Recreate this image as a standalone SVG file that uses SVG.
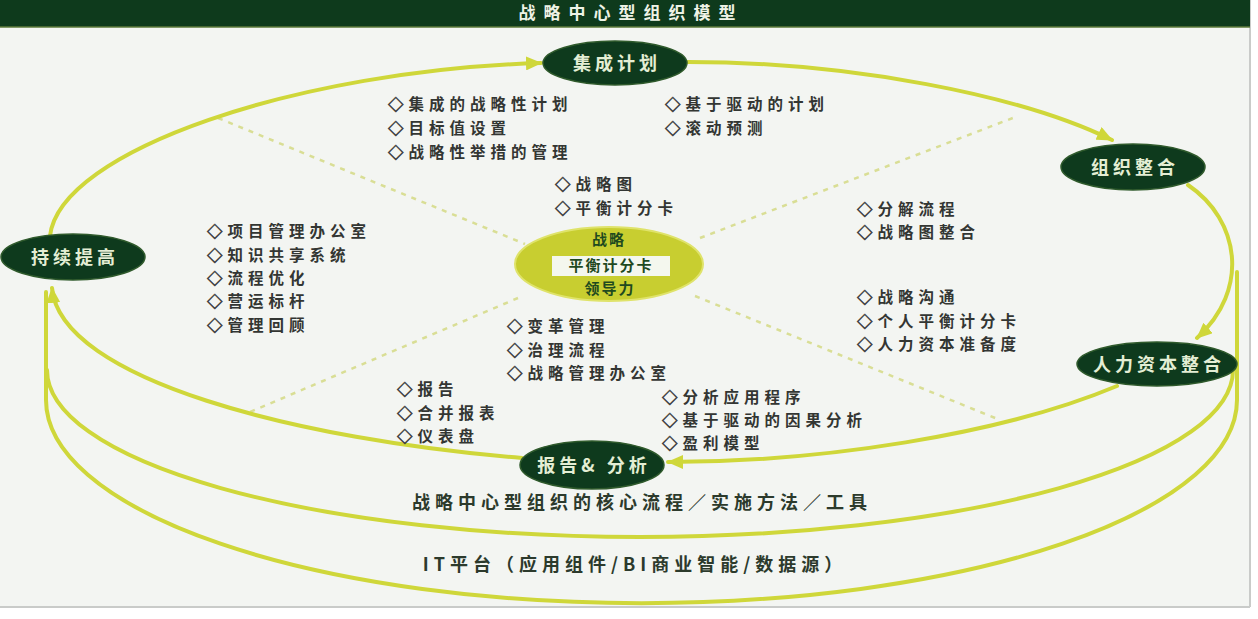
<svg xmlns="http://www.w3.org/2000/svg" width="1258" height="619" viewBox="0 0 1258 619">
<defs>
<style>
.ring{fill:none;stroke:#cfd73a;stroke-width:4;stroke-linecap:round}
.dash{fill:none;stroke:#d9de95;stroke-width:2.5;stroke-dasharray:5 6}
.node{fill:#0e3a1d;stroke:#2f5a2c;stroke-width:1.5}
.nl{font-family:"Noto Sans CJK SC",sans-serif;font-size:18px;font-weight:bold;fill:#e4eed4;text-anchor:middle;letter-spacing:4px}
.it{font-family:"Noto Sans CJK SC",sans-serif;font-size:15.5px;font-weight:bold;fill:#333633;letter-spacing:5px}
.it tspan.d{stroke:#444;stroke-width:0.6}
.cl{font-family:"Noto Sans CJK SC",sans-serif;font-size:15px;font-weight:bold;fill:#1f4a1f;text-anchor:middle;letter-spacing:2px}
.bt{font-family:"Noto Sans CJK SC",sans-serif;font-size:18px;font-weight:bold;fill:#2c3a2c;text-anchor:middle;letter-spacing:5px}
</style>
<marker id="ah" viewBox="0 0 16 14" refX="15" refY="7" markerWidth="16" markerHeight="14" markerUnits="userSpaceOnUse" orient="auto">
<path d="M0,0 L16,7 L0,14 Z" fill="#cfd73a"/>
</marker>
</defs>
<rect x="0" y="0" width="1258" height="619" fill="#ffffff"/>
<rect x="0" y="0" width="1250" height="607" fill="#f3f5f2"/>
<line x1="1250" y1="0" x2="1250" y2="607" stroke="#c9cbc9" stroke-width="2"/>
<line x1="0" y1="607" x2="1250" y2="607" stroke="#c9cbc9" stroke-width="2"/>
<g id="title">
<rect x="0" y="0" width="1250" height="27" fill="#0e3a1c"/>
<line x1="0" y1="27" x2="1250" y2="27" stroke="#5c7a3a" stroke-width="1.5"/>
<text x="631" y="19" font-family="'Noto Sans CJK SC',sans-serif" font-size="17" font-weight="bold" fill="#eef3e6" text-anchor="middle" letter-spacing="8">战略中心型组织模型</text>
</g>
<g id="dividers">
<line class="dash" x1="218" y1="118" x2="525" y2="244"/>
<line class="dash" x1="700" y1="238" x2="1018" y2="116"/>
<line class="dash" x1="518" y1="298" x2="250" y2="412"/>
<line class="dash" x1="695" y1="296" x2="1000" y2="420"/>
</g>
<g id="connectors">
<path class="ring" d="M46,292 L46,400 A595 203 0 0 0 1237 400 L1237 272"/>
<path class="ring" d="M47,370 A593 167 0 0 0 1233 370"/>
<path class="ring" d="M50,236 C60,150 300,70 541,63" marker-end="url(#ah)"/>
<path class="ring" d="M688,62 C850,62 1020,95 1112,140" marker-end="url(#ah)"/>
<path class="ring" d="M1188,185 C1240,220 1250,290 1197,338" marker-end="url(#ah)"/>
<path class="ring" d="M1117,386 C1000,435 820,462 668,462" marker-end="url(#ah)"/>
<path class="ring" d="M522,458 C300,440 60,380 52,288" marker-end="url(#ah)"/>
</g>
<g id="node-jicheng">
<ellipse class="node" cx="615" cy="63" rx="72" ry="22"/>
<text class="nl" x="617" y="70">集成计划</text>
</g>
<g id="node-zuzhi">
<ellipse class="node" cx="1133" cy="167" rx="72" ry="23"/>
<text class="nl" x="1135" y="174">组织整合</text>
</g>
<g id="node-renli">
<ellipse class="node" cx="1157" cy="364" rx="80" ry="22"/>
<text class="nl" x="1159" y="371">人力资本整合</text>
</g>
<g id="node-baogao">
<ellipse class="node" cx="592" cy="465" rx="72" ry="24"/>
<text class="nl" x="594" y="472">报告&amp; 分析</text>
</g>
<g id="node-chixu">
<ellipse class="node" cx="73" cy="257" rx="72" ry="23"/>
<text class="nl" x="75" y="264">持续提高</text>
</g>
<g id="node-center">
<ellipse cx="609" cy="264" rx="94" ry="37" fill="#c8ce30" stroke="#dfe36a" stroke-width="2"/>
<rect x="552" y="256" width="118" height="20" fill="#f4f7ee"/>
<text class="cl" x="609" y="245">战略</text>
<text class="cl" x="611" y="271">平衡计分卡</text>
<text class="cl" x="610" y="294">领导力</text>
</g>
<g id="lists">
<text class="it" x="388" y="110"><tspan class="d">◇</tspan>集成的战略性计划</text>
<text class="it" x="388" y="134"><tspan class="d">◇</tspan>目标值设置</text>
<text class="it" x="388" y="158"><tspan class="d">◇</tspan>战略性举措的管理</text>
<text class="it" x="665" y="110"><tspan class="d">◇</tspan>基于驱动的计划</text>
<text class="it" x="665" y="134"><tspan class="d">◇</tspan>滚动预测</text>
<text class="it" x="555" y="190"><tspan class="d">◇</tspan>战略图</text>
<text class="it" x="555" y="214"><tspan class="d">◇</tspan>平衡计分卡</text>
<text class="it" x="207" y="237"><tspan class="d">◇</tspan>项目管理办公室</text>
<text class="it" x="207" y="261"><tspan class="d">◇</tspan>知识共享系统</text>
<text class="it" x="207" y="284"><tspan class="d">◇</tspan>流程优化</text>
<text class="it" x="207" y="307"><tspan class="d">◇</tspan>营运标杆</text>
<text class="it" x="207" y="331"><tspan class="d">◇</tspan>管理回顾</text>
<text class="it" x="857" y="215"><tspan class="d">◇</tspan>分解流程</text>
<text class="it" x="857" y="238"><tspan class="d">◇</tspan>战略图整合</text>
<text class="it" x="857" y="303"><tspan class="d">◇</tspan>战略沟通</text>
<text class="it" x="857" y="327"><tspan class="d">◇</tspan>个人平衡计分卡</text>
<text class="it" x="857" y="350"><tspan class="d">◇</tspan>人力资本准备度</text>
<text class="it" x="507" y="332"><tspan class="d">◇</tspan>变革管理</text>
<text class="it" x="507" y="356"><tspan class="d">◇</tspan>治理流程</text>
<text class="it" x="507" y="379"><tspan class="d">◇</tspan>战略管理办公室</text>
<text class="it" x="397" y="395"><tspan class="d">◇</tspan>报告</text>
<text class="it" x="397" y="419"><tspan class="d">◇</tspan>合并报表</text>
<text class="it" x="397" y="442"><tspan class="d">◇</tspan>仪表盘</text>
<text class="it" x="662" y="403"><tspan class="d">◇</tspan>分析应用程序</text>
<text class="it" x="662" y="426"><tspan class="d">◇</tspan>基于驱动的因果分析</text>
<text class="it" x="662" y="449"><tspan class="d">◇</tspan>盈利模型</text>
</g>
<g id="layer-labels">
<text class="bt" x="642" y="509">战略中心型组织的核心流程／实施方法／工具</text>
<text class="bt" x="635" y="571" font-size="17" letter-spacing="4">IT平台（应用组件/BI商业智能/数据源）</text>
</g>
</svg>
